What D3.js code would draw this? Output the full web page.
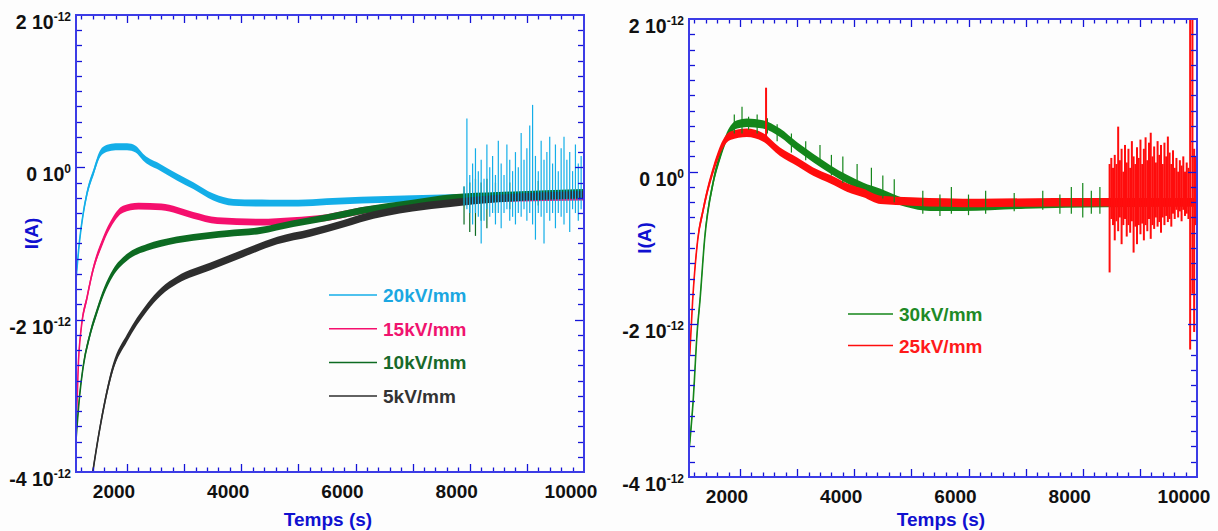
<!DOCTYPE html>
<html><head><meta charset="utf-8">
<script src="https://cdn.jsdelivr.net/npm/d3@7"></script>
<style>
body{margin:0;background:#fdfdfd}
text{font-family:"Liberation Sans",Arial,sans-serif;font-weight:bold}
</style>
</head><body>
<svg id="c" width="1218" height="531"></svg>
<script>
// ---------- data (time in s, current in units of 1e-12 A) ----------
const xTickLabels = [2000, 4000, 6000, 8000, 10000];
const yTickValues = [2, 0, -2, -4];
const yTickBase = ["2 10", "0 10", "-2 10", "-4 10"];
const yTickExp = ["-12", "0", "-12", "-12"];

const leftNames = ["20kV/mm", "15kV/mm", "10kV/mm", "5kV/mm"];
const rightNames = ["30kV/mm", "25kV/mm"];

const cyan20 = [[1110,-1.45],[1170,-0.96],[1230,-0.62],[1300,-0.34],[1420,-0.05],[1530,0.18],[1650,0.25],[1800,0.27],[2000,0.27],[2150,0.24],[2300,0.12],[2580,0.0],[2880,-0.13],[3160,-0.24],[3510,-0.39],[3860,-0.46],[4500,-0.47],[5000,-0.47],[5500,-0.45],[6100,-0.43],[7000,-0.41],[7700,-0.40],[8500,-0.38],[9300,-0.37],[10000,-0.36]];
const pink15 = [[1110,-3.4],[1150,-2.55],[1200,-2.1],[1300,-1.71],[1400,-1.36],[1580,-0.96],[1750,-0.70],[1930,-0.55],[2200,-0.51],[2600,-0.52],[3160,-0.63],[3580,-0.70],[4330,-0.72],[4900,-0.70],[5500,-0.66],[6100,-0.57],[7000,-0.49],[7600,-0.44],[8500,-0.41],[10000,-0.39]];
const green10 = [[1110,-3.55],[1170,-3.0],[1230,-2.63],[1350,-2.2],[1470,-1.9],[1600,-1.62],[1750,-1.39],[2000,-1.18],[2350,-1.05],[2580,-1.0],[3160,-0.92],[3750,-0.87],[4330,-0.83],[4910,-0.74],[5500,-0.66],[6090,-0.57],[7000,-0.47],[7700,-0.40],[8500,-0.37],[10000,-0.33]];
const black5 = [[1360,-4.2],[1526,-3.42],[1754,-2.63],[2000,-2.24],[2350,-1.84],[2600,-1.63],[2880,-1.48],[3460,-1.30],[4035,-1.13],[4630,-0.96],[5210,-0.86],[5790,-0.74],[6090,-0.67],[7000,-0.53],[7665,-0.47],[8500,-0.41],[10000,-0.36]];

// noise spikes: [time, top, bottom]
const cyan20Spikes = [[7900,-0.25,-0.5],[7950,0.64,-0.55],[8000,-0.1,-0.6],[8050,0.05,-0.75],[8100,0.25,-0.6],[8150,-0.05,-0.65],[8200,0.1,-1.0],[8250,-0.15,-0.7],[8300,0.3,-0.55],[8350,0.0,-0.65],[8400,0.15,-0.6],[8450,-0.1,-0.75],[8500,0.35,-0.6],[8550,0.05,-0.8],[8600,-0.1,-0.6],[8650,0.3,-0.55],[8700,0.1,-0.7],[8750,-0.05,-0.65],[8800,0.2,-0.75],[8850,0.0,-0.6],[8900,0.45,-0.65],[8950,0.1,-0.55],[9000,0.25,-0.7],[9050,0.55,-0.6],[9100,0.82,-0.75],[9150,0.15,-0.95],[9200,-0.05,-0.6],[9250,0.35,-0.65],[9300,0.1,-1.0],[9350,0.2,-0.6],[9400,0.4,-0.7],[9450,0.05,-0.6],[9500,0.3,-0.8],[9550,-0.05,-0.6],[9600,0.25,-0.65],[9650,0.4,-0.75],[9700,0.1,-0.6],[9750,0.2,-0.85],[9800,-0.05,-0.55],[9850,0.3,-0.6],[9900,0.05,-0.7],[9950,0.15,-0.55],[10000,0.1,-0.5]];
const green10Spikes = [[7900,-0.25,-0.75],[8000,-0.2,-0.85],[8100,-0.15,-0.9],[8200,-0.2,-0.7],[8300,-0.15,-0.8],[8450,-0.2,-0.6],[8700,-0.2,-0.55],[9200,-0.18,-0.5]];

const green30 = [[1115,-3.6],[1180,-3.0],[1250,-2.1],[1300,-1.68],[1380,-0.89],[1530,-0.14],[1650,0.20],[1770,0.46],[1950,0.62],[2120,0.64],[2400,0.62],[2700,0.51],[3000,0.33],[3280,0.18],[3580,0.03],[3880,-0.10],[4160,-0.20],[4460,-0.28],[4750,-0.37],[5330,-0.46],[5900,-0.46],[7000,-0.43],[8400,-0.41],[10000,-0.40]];
const red25 = [[1120,-2.4],[1170,-1.7],[1260,-0.89],[1350,-0.52],[1420,-0.28],[1530,0.02],[1700,0.36],[1830,0.47],[2120,0.51],[2400,0.45],[2700,0.26],[3000,0.13],[3280,0.0],[3580,-0.10],[3880,-0.21],[4160,-0.28],[4460,-0.37],[5000,-0.39],[6200,-0.41],[7500,-0.40],[8400,-0.40],[9200,-0.40],[10000,-0.40]];
const green30Spikes = [[1900,0.75,0.5],[2035,0.85,0.5],[2150,0.72,0.55],[2300,0.75,0.5],[2480,0.7,0.5],[2650,0.62,0.4],[2900,0.5,0.25],[3150,0.4,0.15],[3400,0.35,0.1],[3600,0.22,-0.05],[3800,0.2,-0.15],[4050,0.1,-0.2],[4300,0.05,-0.25],[4500,-0.05,-0.35],[4700,-0.1,-0.4],[5200,-0.25,-0.55],[5500,-0.3,-0.58],[5700,-0.2,-0.55],[6000,-0.3,-0.57],[6300,-0.25,-0.55],[6800,-0.28,-0.52],[7300,-0.25,-0.5],[7600,-0.3,-0.55],[7800,-0.2,-0.55],[8000,-0.15,-0.6],[8150,-0.25,-0.55],[8300,-0.2,-0.55]];
const red25Spikes = [[2456,1.10,0.4],[8470,0.1,-1.32],[8500,0.18,-0.62],[8530,0.05,-0.7],[8560,0.22,-0.9],[8590,0.1,-0.65],[8620,0.59,-0.78],[8650,0.15,-0.6],[8680,0.3,-0.95],[8710,0.0,-0.7],[8740,0.35,-0.62],[8770,0.12,-0.85],[8800,0.3,-0.7],[8830,0.05,-0.8],[8860,0.4,-0.65],[8890,0.2,-1.06],[8920,0.1,-0.72],[8950,0.32,-0.95],[8980,0.18,-0.7],[9010,0.42,-0.82],[9040,0.1,-0.68],[9070,0.3,-0.9],[9100,0.45,-0.7],[9130,0.15,-0.78],[9160,0.38,-0.62],[9190,0.51,-0.88],[9220,0.2,-0.7],[9250,0.33,-0.75],[9280,0.12,-0.6],[9310,0.4,-0.72],[9340,0.22,-0.66],[9370,0.35,-0.8],[9400,0.1,-0.6],[9430,0.38,-0.7],[9460,0.2,-0.58],[9490,0.46,-0.66],[9520,0.25,-0.62],[9550,0.1,-0.72],[9580,0.28,-0.55],[9610,0.05,-0.62],[9640,0.18,-0.5],[9670,0.0,-0.6],[9700,0.15,-0.52],[9730,0.08,-0.65],[9760,0.2,-0.5],[9790,0.0,-0.58],[9820,0.12,-0.55],[9850,0.05,-0.62],[9880,2.2,-2.33],[9920,2.2,-1.6],[9950,0.3,-2.1],[9980,0.2,-0.7]];

// ---------- drawing ----------
const svg = d3.select("#c");
const AXIS = "#3c3ce6", TICK = "#1414d8", TITLE = "#1010d0";

function panel(id, box, series, spikes, legend) {
  const x = d3.scaleLinear().domain([1107, 10000]).range([box.x0, box.x1]);
  const y = d3.scaleLinear().domain([-4, 2]).range([box.y1, box.y0]);
  const g = svg.append("g");
  g.append("clipPath").attr("id", id).append("rect")
    .attr("x", box.x0).attr("y", box.y0).attr("width", box.x1 - box.x0).attr("height", box.y1 - box.y0);
  const plot = g.append("g").attr("clip-path", `url(#${id})`);

  series.forEach(s => {
    const area = d3.area().x(d => x(d[0])).y0(d => y(d[1] - s.d)).y1(d => y(d[1] + s.d)).curve(d3.curveMonotoneX);
    const line = d3.line().x(d => x(d[0])).y(d => y(d[1])).curve(d3.curveMonotoneX);
    plot.append("path").attr("d", area(s.data)).attr("fill", s.color);
    plot.append("path").attr("d", line(s.data)).attr("fill", "none").attr("stroke", s.color).attr("stroke-width", 1.6);
  });
  spikes.forEach(sp => {
    plot.selectAll(null).data(sp.data).enter().append("line")
      .attr("x1", d => x(d[0])).attr("x2", d => x(d[0]))
      .attr("y1", d => y(d[1])).attr("y2", d => y(d[2]))
      .attr("stroke", sp.color).attr("stroke-width", sp.w);
  });

  // ticks
  const xt = d3.range(1200, 10000, 200);
  xt.forEach(t => {
    const len = t % 1000 === 0 ? 8 : 4.5;
    const px = Math.round(x(t)) + 0.5;
    g.append("line").attr("x1", px).attr("x2", px).attr("y1", box.y1).attr("y2", box.y1 - len).attr("stroke", TICK).attr("stroke-width", 1.3);
    g.append("line").attr("x1", px).attr("x2", px).attr("y1", box.y0).attr("y2", box.y0 + len).attr("stroke", TICK).attr("stroke-width", 1.3);
  });
  d3.range(-3.8, 1.9, 0.2).forEach(v => {
    const major = Math.abs(Math.round(v) - v) < 1e-6 && Math.round(v) % 2 === 0;
    const len = major ? 9 : 6;
    const py = Math.round(y(v)) + 0.5;
    g.append("line").attr("x1", box.x0).attr("x2", box.x0 + len).attr("y1", py).attr("y2", py).attr("stroke", TICK).attr("stroke-width", 1.3);
    g.append("line").attr("x1", box.x1).attr("x2", box.x1 - len).attr("y1", py).attr("y2", py).attr("stroke", TICK).attr("stroke-width", 1.3);
  });
  // frame
  g.append("rect").attr("x", box.x0).attr("y", box.y0).attr("width", box.x1 - box.x0).attr("height", box.y1 - box.y0)
    .attr("fill", "none").attr("stroke", AXIS).attr("stroke-width", 2);

  // x labels
  g.selectAll(null).data(xTickLabels).enter().append("text")
    .attr("x", d => x(d) - 13).attr("y", box.y1 + 26).attr("text-anchor", "middle")
    .attr("font-size", 19).attr("fill", "#111").text(d => d);
  // y labels
  yTickValues.forEach((v, i) => {
    const t = g.append("text").attr("x", box.x0 - 5).attr("y", y(v) + 14).attr("text-anchor", "end").attr("fill", "#111");
    t.append("tspan").attr("font-size", 19.5).text(yTickBase[i]);
    t.append("tspan").attr("font-size", 12).attr("dy", -8).text(yTickExp[i]);
  });
  // titles
  g.append("text").attr("x", (box.x0 + box.x1) / 2 - 2).attr("y", 526).attr("text-anchor", "middle")
    .attr("font-size", 19).attr("fill", TITLE).text("Temps (s)");
  g.append("text").attr("transform", `translate(${box.x0 - 38},${(box.y0 + box.y1) / 2 - 10}) rotate(-90)`)
    .attr("text-anchor", "middle").attr("font-size", 19).attr("fill", TITLE).text("I(A)");

  // legend
  legend.items.forEach((it, i) => {
    const ly = legend.y + i * legend.dy;
    g.append("line").attr("x1", legend.x).attr("x2", legend.x + legend.len).attr("y1", ly).attr("y2", ly)
      .attr("stroke", it.line).attr("stroke-width", 1.5);
    g.append("text").attr("x", legend.x + legend.len + 6).attr("y", ly + 7)
      .attr("font-size", 19).attr("fill", it.text).text(it.name);
  });
}

panel("clipL", {x0: 76, x1: 584, y0: 15, y1: 472},
  [
    {data: cyan20, color: "#14aee8", d: 0.045},
    {data: pink15, color: "#f5106e", d: 0.045},
    {data: green10, color: "#0d6b22", d: 0.045},
    {data: black5, color: "#2e2e2e", d: 0.05}
  ],
  [
    {data: green10Spikes, color: "#0d6b22", w: 1.2},
    {data: cyan20Spikes, color: "#14aee8", w: 1.2}
  ],
  {x: 329, len: 48, y: 295, dy: 33.7, items: [
    {name: leftNames[0], line: "#14aee8", text: "#1ba7e1"},
    {name: leftNames[1], line: "#f5106e", text: "#f0136f"},
    {name: leftNames[2], line: "#0d6b22", text: "#17692a"},
    {name: leftNames[3], line: "#2e2e2e", text: "#333333"}
  ]});

panel("clipR", {x0: 689, x1: 1197, y0: 19, y1: 477},
  [
    {data: green30, color: "#14861a", d: 0.055},
    {data: red25, color: "#ff0d0d", d: 0.055}
  ],
  [
    {data: green30Spikes, color: "#14861a", w: 1.2},
    {data: red25Spikes, color: "#ff0d0d", w: 2}
  ],
  {x: 848, len: 45, y: 314, dy: 31.5, items: [
    {name: rightNames[0], line: "#14861a", text: "#1e8a26"},
    {name: rightNames[1], line: "#ff0d0d", text: "#ff1a1a"}
  ]});
</script>
</body></html>
